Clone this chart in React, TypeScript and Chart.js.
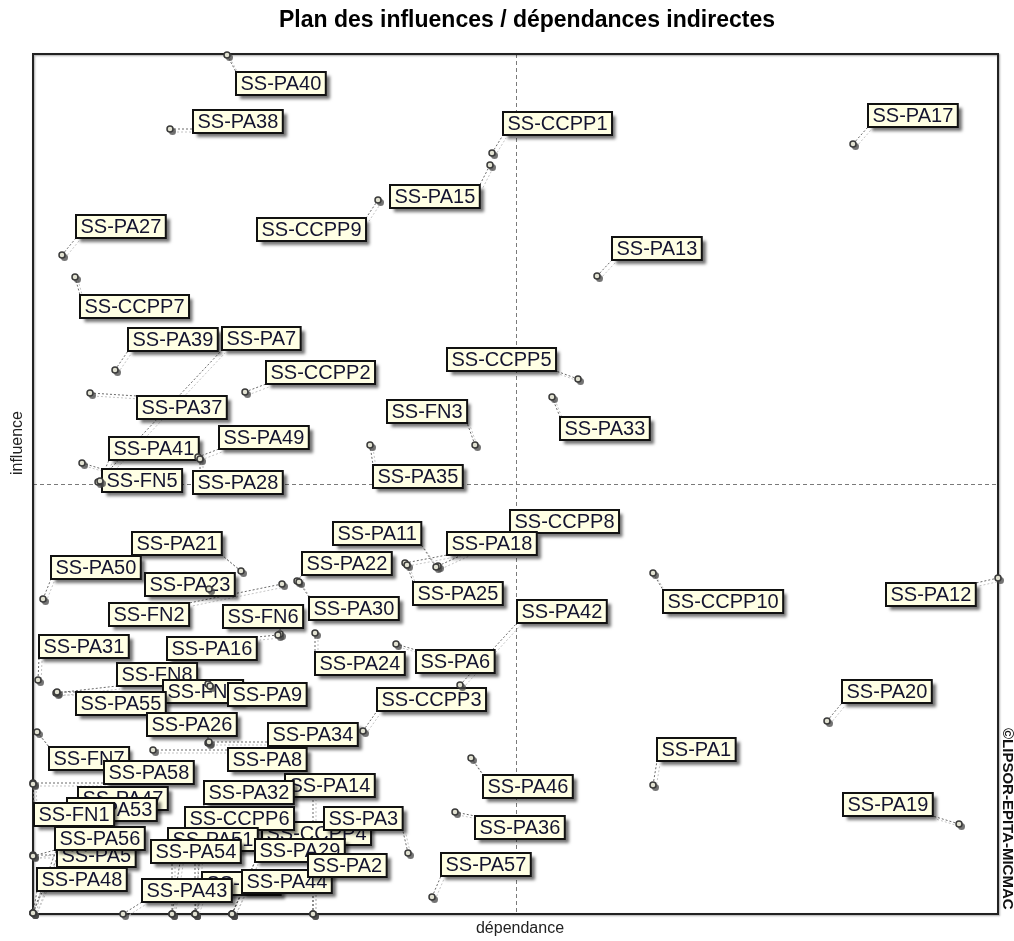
import { useEffect, useRef } from "react";
import { Chart, registerables } from "chart.js";
Chart.register(...registerables);

const FONT = "Arial, 'Liberation Sans', sans-serif";

// Axis limits (indirect dependence / influence, arbitrary units) and their means
const DEP_MAX = 193;
const INF_MAX = 172;
const meanDep = 96.6;
const meanInf = 86;

const titleText = "Plan des influences / dépendances indirectes";
const xTitle = "dépendance";
const yTitle = "influence";
const watermark = "©LIPSOR-EPITA-MICMAC";

// Variables (in drawing order of their labels)
const names = [
  "SS-PA40", "SS-PA38", "SS-CCPP1", "SS-PA15", "SS-CCPP9", "SS-PA17", "SS-PA13", "SS-PA27",
  "SS-CCPP7", "SS-PA39", "SS-PA7", "SS-CCPP2", "SS-PA37", "SS-PA41", "SS-PA49", "SS-FN5",
  "SS-PA28", "SS-CCPP5", "SS-FN3", "SS-PA33", "SS-PA35", "SS-CCPP8", "SS-PA11", "SS-PA18",
  "SS-PA21", "SS-PA50", "SS-PA22", "SS-PA23", "SS-PA25", "SS-PA30", "SS-FN2", "SS-FN6",
  "SS-CCPP10", "SS-PA12", "SS-PA42", "SS-PA31", "SS-PA16", "SS-PA24", "SS-PA6", "SS-FN8",
  "SS-FN4", "SS-PA9", "SS-PA55", "SS-CCPP3", "SS-PA20", "SS-PA26", "SS-PA34", "SS-FN7",
  "SS-PA8", "SS-PA1", "SS-PA58", "SS-PA14", "SS-PA46", "SS-PA47", "SS-PA32", "SS-PA53",
  "SS-FN1", "SS-CCPP4", "SS-CCPP6", "SS-PA19", "SS-PA3", "SS-PA5", "SS-PA56", "SS-PA51",
  "SS-PA36", "SS-PA29", "SS-PA54", "SS-PA4", "SS-PA44", "SS-PA2", "SS-PA57", "SS-PA48",
  "SS-PA43",
];

// Indirect dependence (x)
const dependance = [
  38.8, 27.4, 91.8, 91.4, 69, 164, 112.8, 5.8,
  8.4, 16.4, 13, 42.4, 11.4, 13.4, 33, 9.8,
  33.4, 109, 88.4, 103.8, 67.4, 81, 80.6, 74.4,
  41.6, 2, 52.8, 35.2, 74.8, 53.2, 49.8, 49.4,
  124, 193, 85.4, 1, 49, 56.4, 72.6, 4.6,
  35, 35.4, 4.8, 66, 158.8, 35, 35.2, 0.8,
  24, 124, 0, 56, 87.6, 0, 32.4, 0,
  0, 39.8, 27.8, 185.2, 75, 0, 0, 32.4,
  84.4, 39.8, 27.8, 32.4, 39.8, 56, 79.8, 0,
  18,
];

// Indirect influence (y)
const influence = [
  171.8, 157, 152.2, 149.8, 142.8, 154, 127.6, 131.8,
  127.4, 108.8, 86.4, 104.4, 104.2, 86.6, 91.4, 90.2,
  91, 107, 93.8, 103.4, 93.8, 69.6, 69.4, 70.2,
  68.6, 63, 66.6, 65, 69.8, 66.4, 66, 56,
  68.2, 67.2, 45.8, 46.8, 55.8, 56.2, 54, 44.2,
  46, 45.6, 44.4, 36.6, 38.6, 34.2, 34.4, 36.4,
  32.8, 25.8, 26.2, 0, 31.2, 0.2, 0, 0.2,
  26, 0, 0, 18, 12.2, 11.8, 11.6, 0,
  20.4, 0, 0, 0, 0, 0, 3.4, 0.2,
  0,
];

// Label anchors (left / top of each label box), in the same data units
const labelDep = [
  40.6, 32, 94, 71.4, 44.8, 167, 115.8, 8.6,
  9.4, 19, 37.8, 46.6, 20.8, 15.2, 37.2, 13.8,
  32, 82.8, 70.8, 105.4, 68, 95.4, 60, 82.8,
  19.8, 3.6, 53.8, 22.4, 76, 55.2, 15.2, 38,
  126, 170.6, 96.8, 1.2, 26.8, 56.4, 76.6, 16.8,
  26, 39, 8.6, 68.8, 161.8, 22.8, 47, 3.2,
  39, 124.8, 14.2, 50.4, 90, 9, 34.2, 6.8,
  0.2, 45.8, 30.4, 162, 58.2, 4.8, 4.4, 27,
  88.4, 44.4, 23.6, 33.8, 41.8, 55, 81.6, 0.8,
  21.8,
];
const labelInf = [
  168.4, 160.8, 160.4, 145.8, 139.2, 162, 135.4, 139.8,
  123.8, 117.2, 117.4, 110.6, 103.6, 95.4, 97.6, 89,
  88.6, 113.2, 102.8, 99.4, 89.8, 80.8, 78.4, 76.4,
  76.4, 71.6, 72.4, 68.2, 66.4, 63.4, 62.2, 61.8,
  64.8, 66.2, 62.8, 55.8, 55.4, 52.4, 52.8, 50.2,
  46.8, 46.2, 44.4, 45.2, 46.8, 40.2, 38.2, 33.4,
  33.2, 35.2, 30.6, 28, 27.8, 25.4, 26.6, 23.2,
  22.2, 18.4, 21.4, 24.2, 21.4, 14, 17.4, 17.2,
  19.6, 15, 14.8, 8.4, 8.8, 12, 12.2, 9.2,
  7,
];

const micmacPlugin = {
  id: "micmac",
  beforeDatasetsDraw(chart: any) {
    const { ctx, chartArea: a, scales } = chart;
    const xs = scales.x;
    const ys = scales.y;
    ctx.save();

    // mean lines
    ctx.strokeStyle = "#7a7a7a";
    ctx.lineWidth = 1;
    ctx.setLineDash([4, 3]);
    const mx = Math.round(xs.getPixelForValue(meanDep)) + 0.5;
    const my = Math.round(ys.getPixelForValue(meanInf)) + 0.5;
    ctx.beginPath();
    ctx.moveTo(mx, a.top);
    ctx.lineTo(mx, a.bottom);
    ctx.moveTo(a.left, my);
    ctx.lineTo(a.right, my);
    ctx.stroke();
    ctx.setLineDash([]);

    // frame
    ctx.save();
    ctx.shadowColor = "rgba(0,0,0,0.35)";
    ctx.shadowBlur = 2;
    ctx.shadowOffsetX = 1;
    ctx.shadowOffsetY = 1;
    ctx.strokeStyle = "#222";
    ctx.lineWidth = 2;
    ctx.strokeRect(a.left, a.top, a.right - a.left, a.bottom - a.top);
    ctx.restore();

    // label boxes
    ctx.font = `20px ${FONT}`;
    const boxes = names.map((n, i) => {
      const bx = xs.getPixelForValue(labelDep[i]);
      const by = ys.getPixelForValue(labelInf[i]);
      const w = ctx.measureText(n).width + 9;
      return { bx, by, w, h: 23 };
    });

    // connectors
    names.forEach((n, i) => {
      const px = xs.getPixelForValue(dependance[i]);
      const py = ys.getPixelForValue(influence[i]);
      const b = boxes[i];
      const tx = Math.min(Math.max(px, b.bx), b.bx + b.w);
      const ty = Math.min(Math.max(py, b.by), b.by + b.h);
      if (Math.hypot(tx - px, ty - py) < 2) return;
      ctx.setLineDash([2, 2]);
      ctx.lineWidth = 1;
      ctx.strokeStyle = "#c4c4c4";
      ctx.beginPath();
      ctx.moveTo(px + 3, py + 3);
      ctx.lineTo(tx + 3, ty + 3);
      ctx.stroke();
      ctx.strokeStyle = "#6a6a6a";
      ctx.beginPath();
      ctx.moveTo(px, py);
      ctx.lineTo(tx, ty);
      ctx.stroke();
    });
    ctx.setLineDash([]);

    // labels
    names.forEach((n, i) => {
      const b = boxes[i];
      ctx.save();
      ctx.shadowColor = "rgba(0,0,0,0.55)";
      ctx.shadowBlur = 3;
      ctx.shadowOffsetX = 4;
      ctx.shadowOffsetY = 4;
      ctx.fillStyle = "#ffffe4";
      ctx.fillRect(b.bx, b.by, b.w, b.h);
      ctx.restore();
      ctx.strokeStyle = "#111";
      ctx.lineWidth = 2;
      ctx.strokeRect(b.bx, b.by, b.w, b.h);
      ctx.fillStyle = "#141430";
      ctx.textBaseline = "middle";
      ctx.textAlign = "left";
      ctx.fillText(n, b.bx + 4.5, b.by + b.h / 2 + 1);
    });

    // point shadows
    ctx.fillStyle = "rgba(70,70,70,0.75)";
    names.forEach((n, i) => {
      const px = xs.getPixelForValue(dependance[i]);
      const py = ys.getPixelForValue(influence[i]);
      ctx.beginPath();
      ctx.arc(px + 2.5, py + 2.5, 3.5, 0, Math.PI * 2);
      ctx.fill();
    });
    ctx.restore();
  },
  afterDraw(chart: any) {
    const { ctx, chartArea: a } = chart;
    ctx.save();
    ctx.fillStyle = "#000";
    ctx.textAlign = "center";
    ctx.textBaseline = "middle";
    ctx.font = `bold 23px ${FONT}`;
    ctx.fillText(titleText, 527, 21);

    ctx.font = `16px ${FONT}`;
    ctx.fillStyle = "#222";
    ctx.fillText(xTitle, 520, 929);

    ctx.save();
    ctx.translate(18, 443);
    ctx.rotate(-Math.PI / 2);
    ctx.fillText(yTitle, 0, 0);
    ctx.restore();

    ctx.save();
    ctx.font = `bold 15px ${FONT}`;
    ctx.fillStyle = "#111";
    ctx.textAlign = "left";
    ctx.translate(a.right + 9, 728);
    ctx.rotate(Math.PI / 2);
    ctx.fillText(watermark, 0, 0);
    ctx.restore();
    ctx.restore();
  },
};

export default function App() {
  const ref = useRef<HTMLCanvasElement>(null);
  useEffect(() => {
    document.body.style.margin = "0";
    const chart = new Chart(ref.current!, {
      type: "scatter",
      data: {
        datasets: [
          {
            data: names.map((n, i) => ({ x: dependance[i], y: influence[i] })),
            pointRadius: 3,
            pointHoverRadius: 3,
            pointBackgroundColor: "#e2e2d2",
            pointBorderColor: "#3a3a3a",
            pointBorderWidth: 1.5,
            clip: false,
          } as any,
        ],
      },
      options: {
        responsive: false,
        animation: false,
        events: [],
        layout: { padding: { left: 33, top: 54, right: 16, bottom: 27 } },
        plugins: {
          legend: { display: false },
          title: { display: false },
          tooltip: { enabled: false },
        },
        scales: {
          x: { type: "linear", min: 0, max: DEP_MAX, display: false },
          y: { type: "linear", min: 0, max: INF_MAX, display: false },
        },
      },
      plugins: [micmacPlugin],
    });
    return () => chart.destroy();
  }, []);
  return <canvas ref={ref} width={1014} height={941} style={{ display: "block" }} />;
}
